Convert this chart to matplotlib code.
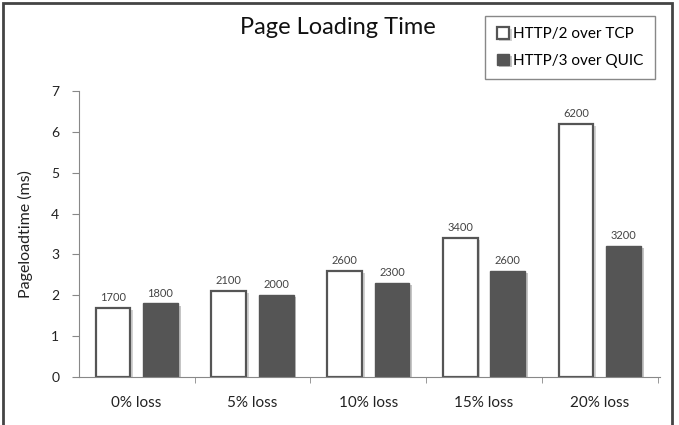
import matplotlib.pyplot as plt
import matplotlib.patheffects as pe
from matplotlib.patches import Rectangle
import numpy as np

plt.rcParams['font.family'] = ['Lato', 'DejaVu Sans']

categories = ["0% loss", "5% loss", "10% loss", "15% loss", "20% loss"]
http2_ms = [1700, 2100, 2600, 3400, 6200]
http3_ms = [1800, 2000, 2300, 2600, 3200]
series_names = ["HTTP/2 over TCP", "HTTP/3 over QUIC"]

fig = plt.figure(figsize=(6.79, 4.25), dpi=100)
ax = fig.add_axes([0.116, 0.113, 0.856, 0.673])

x = np.arange(len(categories))
w = 0.30
off = 0.205
shadow = [pe.SimplePatchShadow(offset=(2, -1.5), alpha=0.25), pe.Normal()]

b1 = ax.bar(x - off, np.array(http2_ms) / 1000, w, color="white", edgecolor="#555555",
            linewidth=1.6, label=series_names[0], path_effects=shadow)
b2 = ax.bar(x + off, np.array(http3_ms) / 1000, w, color="#555555", edgecolor="#555555",
            linewidth=1.0, label=series_names[1], path_effects=shadow)

for bars, vals in ((b1, http2_ms), (b2, http3_ms)):
    for b, v in zip(bars, vals):
        ax.text(b.get_x() + b.get_width() / 2, b.get_height() + 0.12, str(v),
                ha="center", va="bottom", fontsize=8, color="#444444")

ax.set_xlim(-0.5, 4.52)
ax.set_ylim(0, 7)
ax.set_yticks(range(0, 8))
ax.set_xticks(x)
ax.set_xticklabels(categories)
ax.set_xticks(np.arange(0.5, 5, 1), minor=True)
ax.tick_params(axis="x", which="major", length=0, pad=14, labelsize=11, colors="#222222")
ax.tick_params(axis="x", which="minor", length=4, direction="out", color="#888888")
ax.tick_params(axis="y", length=5, color="#888888", labelsize=10, labelcolor="#222222", pad=9)
for s in ("top", "right"):
    ax.spines[s].set_visible(False)
for s in ("left", "bottom"):
    ax.spines[s].set_color("#888888")

ax.set_ylabel("Pageloadtime (ms)", fontsize=11.5, color="#222222", labelpad=13)
fig.text(0.498, 0.936, "Page Loading Time", ha="center", va="center", fontsize=17, color="#111111")

fig.legend(handles=[b1, b2], labels=series_names, loc="upper right",
           bbox_to_anchor=(0.964, 0.963), fontsize=11, fancybox=False, edgecolor="#888888",
           handlelength=0.8, handleheight=0.8, handletextpad=0.25, labelspacing=0.8,
           borderpad=0.75, borderaxespad=0, framealpha=1)

fig.patches.append(Rectangle((0.005, -0.1), 0.984, 1.093, transform=fig.transFigure,
                             fill=False, edgecolor="#444444", linewidth=2))

fig.savefig("out.png", dpi=100)
